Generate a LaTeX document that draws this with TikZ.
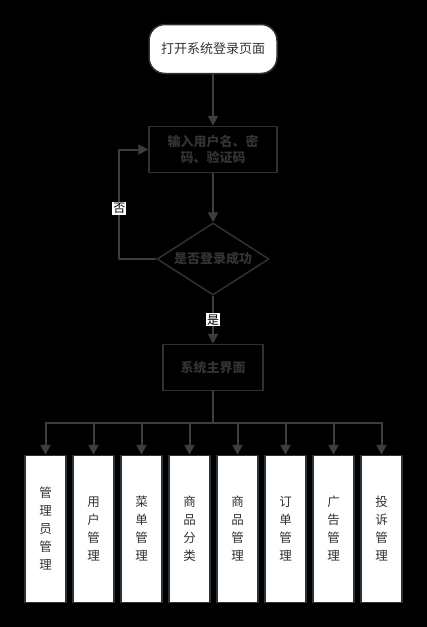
\documentclass[tikz,border=0pt]{standalone}
\usepackage{fontspec}
\setmainfont{Noto Sans CJK SC}
\usetikzlibrary{arrows.meta,shapes.geometric}
\definecolor{wire}{HTML}{3D3D3D}
\definecolor{rim}{HTML}{2B3238}
\definecolor{ink}{HTML}{333333}
\begin{document}
\begin{tikzpicture}[x=1pt,y=-1pt,line join=round,
    box/.style={draw=rim,line width=1.5pt,inner sep=0pt,text=ink,font=\fontsize{13}{16}\selectfont},
    flow/.style={box,font=\fontsize{13}{16}\selectfont\bfseries,minimum height=46pt},
    start/.style={box,fill=white,rounded corners=16pt,minimum width=128pt,minimum height=49pt},
    leaf/.style={box,fill=white,minimum width=41pt,minimum height=147pt,align=center,font=\fontsize{12.5}{18}\selectfont},
    link/.style={draw=wire,line width=2pt,-{Triangle[length=10pt,width=10pt]}},
    tag/.style={fill=white,text=black,inner sep=1pt,font=\fontsize{12}{14}\selectfont}]
  \fill[black] (0,0) rectangle (427,627);
  \node[start] (open) at (213,49) {打开系统登录页面};
  \node[flow,minimum width=128pt,align=center] (input) at (213,149.5) {输入用户名、密\\码、验证码};
  \node[flow,diamond,minimum width=112pt,minimum height=72pt,shape aspect=1.5] (check) at (213,259) {是否登录成功};
  \node[flow,minimum width=100pt] (home) at (213,367.5) {系统主界面};
  \coordinate (bus) at (213,422.5);
  \draw[link] (open) -- (input);
  \draw[link] (input) -- (check);
  \draw[link] (check.west) -- ++(-37,0) |- (input.west) node[tag,pos=0.23] {否};
  \draw[link] (check) -- (home) node[tag,midway] {是};
  \foreach \txt [count=\i from 0] in {{管\\理\\员\\管\\理},{用\\户\\管\\理},{菜\\单\\管\\理},{商\\品\\分\\类},
      {商\\品\\管\\理},{订\\单\\管\\理},{广\\告\\管\\理},{投\\诉\\管\\理}} {
    \node[leaf] (m\i) at (45.5+48*\i,529) {\txt};
    \draw[link] (bus -| m\i) -- (m\i);
  }
  \draw[draw=wire,line width=2pt] (home) -- (bus);
  \draw[draw=wire,line width=2pt,line cap=rect] (bus -| m0) -- (bus -| m7);
\end{tikzpicture}
\end{document}
